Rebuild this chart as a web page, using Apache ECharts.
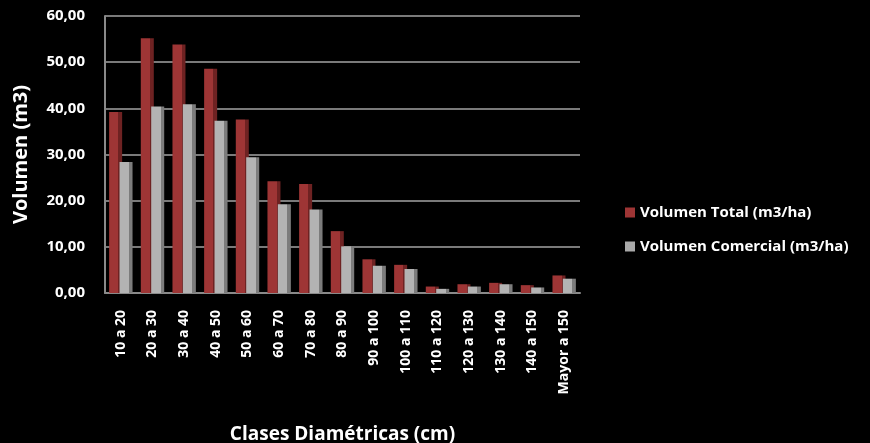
<!DOCTYPE html>
<html>
<head>
<meta charset="utf-8">
<script src="https://cdn.jsdelivr.net/npm/echarts@6/dist/echarts.min.js"></script>
<style>
    html, body { margin: 0; padding: 0; background: #000; }
    #chart { width: 870px; height: 443px; }
</style>
</head>
<body>
<div id="chart"></div>
<script>
// clases diametricas (cm)
const categories = ['10 a 20', '20 a 30', '30 a 40', '40 a 50', '50 a 60', '60 a 70', '70 a 80', '80 a 90',
    '90 a 100', '100 a 110', '110 a 120', '120 a 130', '130 a 140', '140 a 150', 'Mayor a 150']
const volTotal = [39.2, 55.2, 53.8, 48.6, 37.6, 24.2, 23.6, 13.4, 7.3, 6.1, 1.4, 1.9, 2.2, 1.7, 3.8]
const volComercial = [28.4, 40.4, 40.9, 37.3, 29.4, 19.2, 18.1, 10.1, 5.9, 5.2, 0.9, 1.4, 1.9, 1.2, 3.1]
const yTicks = [0, 10, 20, 30, 40, 50, 60]

// cara lateral oscura para imitar la columna 3D de Excel
const shade = (front, side) => ({
    type: 'linear', x: 0, y: 0, x2: 1, y2: 0,
    colorStops: [
        { offset: 0, color: front },
        { offset: 0.72, color: front },
        { offset: 0.72, color: side },
        { offset: 1, color: side }
    ]
})

const font = '"Open Sans", sans-serif'
const chart = echarts.init(document.getElementById('chart'))

chart.setOption({
    backgroundColor: '#000',
    animation: false,
    grid: {
        left: 105,
        right: 290,
        top: 16,
        bottom: 150,
        outerBoundsMode: 'none'
    },
    legend: {
        orient: 'vertical',
        left: 620,
        top: 200,
        itemWidth: 10,
        itemHeight: 10,
        itemGap: 19,
        icon: 'rect',
        textStyle: { color: '#fff', fontFamily: font, fontWeight: 'bold', fontSize: 15 },
        data: [
            { name: 'Volumen Total (m3/ha)', itemStyle: { color: '#9e3535' } },
            { name: 'Volumen Comercial (m3/ha)', itemStyle: { color: '#a9a9a9' } }
        ]
    },
    xAxis: {
        type: 'category',
        data: categories,
        name: 'Clases Diamétricas (cm)',
        nameLocation: 'middle',
        nameGap: 132,
        nameTextStyle: { color: '#fff', fontFamily: font, fontWeight: 'bold', fontSize: 19 },
        axisLine: { lineStyle: { color: '#8a8a8a', width: 2 } },
        axisTick: { show: false },
        axisLabel: {
            rotate: 90,
            color: '#fff',
            fontFamily: font,
            fontWeight: 'bold',
            fontSize: 14,
            margin: 17
        }
    },
    yAxis: {
        type: 'value',
        min: yTicks[0],
        max: yTicks[yTicks.length - 1],
        interval: 10,
        name: 'Volumen (m3)',
        nameLocation: 'middle',
        nameGap: 74,
        nameTextStyle: { color: '#fff', fontFamily: font, fontWeight: 'bold', fontSize: 20 },
        axisLine: { show: true, lineStyle: { color: '#8a8a8a', width: 2 } },
        axisTick: { show: false },
        splitLine: { lineStyle: { color: '#7a7a7a', width: 2 } },
        axisLabel: {
            color: '#fff',
            fontFamily: font,
            fontWeight: 'bold',
            fontSize: 15,
            margin: 20,
            formatter: v => v.toFixed(2).replace('.', ',')
        }
    },
    series: [
        {
            name: 'Volumen Total (m3/ha)',
            type: 'bar',
            data: volTotal,
            barWidth: 13,
            barGap: '-20%',
            itemStyle: { color: shade('#9e3535', '#6e2222') }
        },
        {
            name: 'Volumen Comercial (m3/ha)',
            type: 'bar',
            data: volComercial,
            barWidth: 13,
            itemStyle: { color: shade('#b3b3b3', '#7c7c7c') }
        }
    ]
})
</script>
</body>
</html>
